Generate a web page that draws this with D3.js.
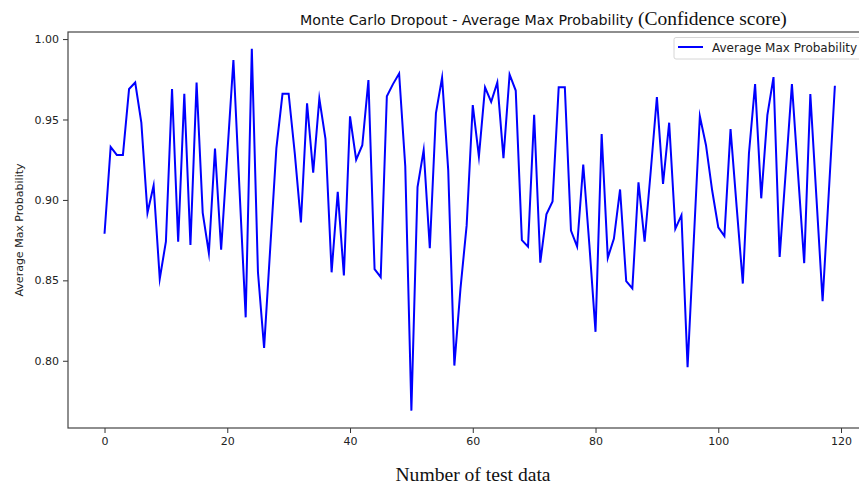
<!DOCTYPE html>
<html>
<head>
<meta charset="utf-8">
<script src="https://cdn.jsdelivr.net/npm/d3@7"></script>
<style>
  html, body { margin: 0; padding: 0; background: #fff; }
  svg { display: block; }
</style>
</head>
<body>
<div id="chart"></div>
<script>
// Average max softmax probability per test sample (MC dropout)
const sampleIndex = d3.range(0, 120);
const avgMaxProb = [
  0.879, 0.933, 0.928, 0.928, 0.969, 0.973, 0.948, 0.892, 0.909, 0.851,
  0.874, 0.969, 0.874, 0.966, 0.872, 0.973, 0.892, 0.867, 0.932, 0.869,
  0.928, 0.987, 0.906, 0.827, 0.994, 0.855, 0.808, 0.870, 0.932, 0.966,
  0.966, 0.929, 0.886, 0.960, 0.917, 0.963, 0.938, 0.855, 0.905, 0.853,
  0.952, 0.925, 0.934, 0.9745, 0.857, 0.852, 0.9645, 0.972, 0.9786, 0.921,
  0.769, 0.908, 0.931, 0.870, 0.954, 0.976, 0.9185, 0.797, 0.845, 0.884,
  0.959, 0.927, 0.970, 0.961, 0.973, 0.926, 0.978, 0.968, 0.875, 0.871,
  0.953, 0.861, 0.891, 0.899, 0.970, 0.970, 0.881, 0.871, 0.922, 0.872,
  0.818, 0.941, 0.864, 0.876, 0.9065, 0.8495, 0.845, 0.911, 0.874, 0.918,
  0.964, 0.910, 0.948, 0.882, 0.8905, 0.796, 0.874, 0.952, 0.934, 0.906,
  0.883, 0.8775, 0.944, 0.8955, 0.848, 0.929, 0.972, 0.901, 0.9527, 0.9764,
  0.8645, 0.918, 0.972, 0.916, 0.8607, 0.9658, 0.901, 0.837, 0.904, 0.971
];
const xTicks = [0, 20, 40, 60, 80, 100, 120];
const yTicks = [0.80, 0.85, 0.90, 0.95, 1.00];

const W = 859, H = 486;
const plotL = 68, plotR = 871.4, plotT = 32, plotB = 428;

const svg = d3.select("#chart").append("svg")
  .attr("width", W).attr("height", H);

const x = d3.scaleLinear().domain([-5.95, 124.95]).range([plotL, plotR]);
const y = d3.scaleLinear().domain([0.7582, 1.0044]).range([plotB, plotT]);

// line
const line = d3.line()
  .x((d, i) => x(sampleIndex[i]))
  .y(d => y(d));

svg.append("path")
  .datum(avgMaxProb)
  .attr("d", line)
  .attr("fill", "none")
  .attr("stroke", "#0000ff")
  .attr("stroke-width", 2)
  .attr("stroke-linejoin", "miter")
  .attr("stroke-miterlimit", 10);

// axes
const xAxis = svg.append("g")
  .attr("transform", `translate(0,${plotB})`)
  .call(d3.axisBottom(x).tickValues(xTicks).tickFormat(d3.format("d")).tickSizeOuter(0).tickSize(5).tickPadding(4));
const yAxis = svg.append("g")
  .attr("transform", `translate(${plotL},0)`)
  .call(d3.axisLeft(y).tickValues(yTicks).tickFormat(d3.format(".2f")).tickSizeOuter(0).tickSize(5).tickPadding(4));

[xAxis, yAxis].forEach(g => {
  g.select(".domain").remove();
  g.selectAll("line").attr("stroke", "#333").attr("stroke-width", 1);
  g.selectAll("text")
    .attr("font-family", "DejaVu Sans, sans-serif")
    .attr("font-size", 11)
    .attr("fill", "#222");
});

// frame
svg.append("rect")
  .attr("x", plotL).attr("y", plotT)
  .attr("width", plotR - plotL).attr("height", plotB - plotT)
  .attr("fill", "none").attr("stroke", "#444").attr("stroke-width", 1.2);

// title
const title = svg.append("text")
  .attr("x", 300).attr("y", 25)
  .attr("fill", "#111");
title.append("tspan")
  .attr("font-family", "DejaVu Sans, sans-serif")
  .attr("font-size", 14.2)
  .text("Monte Carlo Dropout - Average Max Probability ");
title.append("tspan")
  .attr("font-family", "Liberation Serif, Times New Roman, serif")
  .attr("font-size", 19.5)
  .text("(Confidence score)");

// axis labels
svg.append("text")
  .attr("transform", `translate(23,${(plotT + plotB) / 2}) rotate(-90)`)
  .attr("text-anchor", "middle")
  .attr("font-family", "DejaVu Sans, sans-serif")
  .attr("font-size", 11)
  .attr("fill", "#222")
  .text("Average Max Probability");

svg.append("text")
  .attr("x", 473).attr("y", 481)
  .attr("text-anchor", "middle")
  .attr("font-family", "Liberation Serif, Times New Roman, serif")
  .attr("font-size", 19.6)
  .attr("fill", "#111")
  .text("Number of test data");

// legend
const lg = svg.append("g");
lg.append("rect")
  .attr("x", 674).attr("y", 37.5)
  .attr("width", 200).attr("height", 21.5)
  .attr("rx", 2)
  .attr("fill", "#fff").attr("stroke", "#d6d6d6").attr("stroke-width", 1);
lg.append("line")
  .attr("x1", 678).attr("x2", 703).attr("y1", 47).attr("y2", 47)
  .attr("stroke", "#0000ff").attr("stroke-width", 2);
lg.append("text")
  .attr("x", 712).attr("y", 51.5)
  .attr("font-family", "DejaVu Sans, sans-serif")
  .attr("font-size", 12)
  .attr("fill", "#222")
  .text("Average Max Probability");
</script>
</body>
</html>
